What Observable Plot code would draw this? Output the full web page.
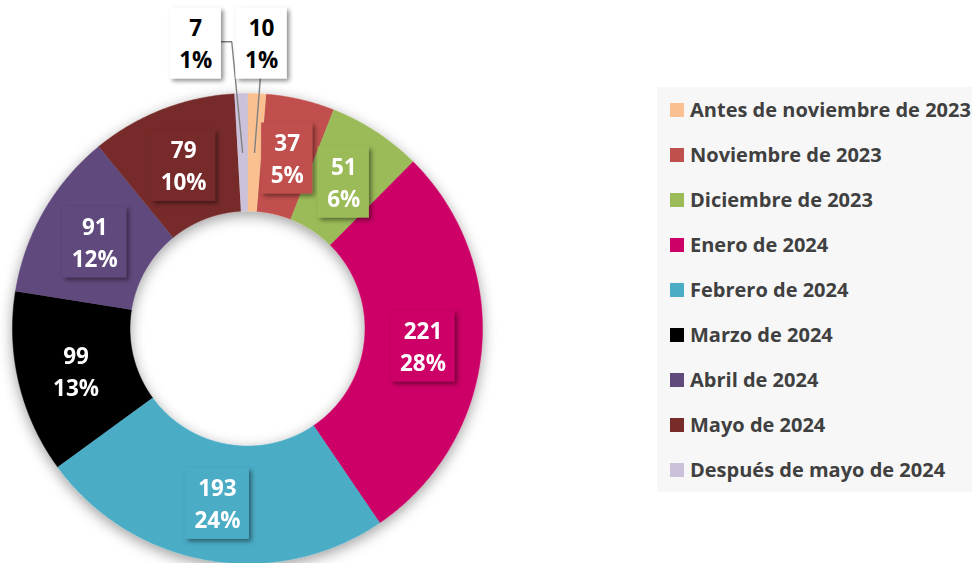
<!DOCTYPE html>
<html><head><meta charset="utf-8">
<script src="https://cdn.jsdelivr.net/npm/d3@7"></script>
<script src="https://cdn.jsdelivr.net/npm/@observablehq/plot@0.6"></script>
<style>
html,body{margin:0;padding:0;background:#fff;overflow:hidden;}
#wrap{position:relative;width:972px;height:563px;overflow:hidden;}
#chart{position:absolute;left:0;top:0;}
#legend{position:absolute;left:657px;top:87px;width:340px;height:405px;background:#f7f7f7;}
#legend .lg-swatches{margin:0;font-family:"Open Sans",sans-serif;font-size:20px;font-weight:700;color:#404040;padding-left:13px;}
#legend .lg-swatch{height:45px;display:flex;align-items:center;padding:0;}
#legend .lg-swatch > svg{margin-right:6px;}
#legend .lg-swatch-label{overflow:visible;text-overflow:clip;}
</style></head>
<body><div id="wrap"><div id="chart"></div><div id="legend"></div></div>
<script>
// ---- data ----
const categories = [
  "Antes de noviembre de 2023",
  "Noviembre de 2023",
  "Diciembre de 2023",
  "Enero de 2024",
  "Febrero de 2024",
  "Marzo de 2024",
  "Abril de 2024",
  "Mayo de 2024",
  "Después de mayo de 2024"
];
const values = [10, 37, 51, 221, 193, 99, 91, 79, 7];
const colors = ["#FAC090", "#C0504D", "#9BBB59", "#CC0066", "#4BACC6", "#000000", "#604A7B", "#772C2A", "#CCC1DA"];

// ---- layout ----
const R = 1, r0 = 0.5, labelR = 0.75;
const outsideLabels = {
  "Antes de noviembre de 2023": {x: 0.06, y: 1.22},
  "Después de mayo de 2024": {x: -0.22, y: 1.22}
};

const pie = d3.pie().sort(null).value(d => d.value).startAngle(0).endAngle(2 * Math.PI);
const total = d3.sum(values);
const arcs = pie(categories.map((c, i) => ({cat: c, value: values[i]})));
const slices = arcs.map(a => ({
  cat: a.data.cat, value: a.data.value, a0: a.startAngle, a1: a.endAngle,
  mid: (a.startAngle + a.endAngle) / 2,
  pct: Math.round(a.data.value / total * 100)
}));

const pts = [];
for (const s of slices) {
  const n = Math.max(2, Math.ceil((s.a1 - s.a0) / (Math.PI / 360)));
  for (let k = 0; k <= n; k++) { const a = s.a0 + (s.a1 - s.a0) * k / n; pts.push({cat: s.cat, x: R * Math.sin(a), y: R * Math.cos(a)}); }
  for (let k = n; k >= 0; k--) { const a = s.a0 + (s.a1 - s.a0) * k / n; pts.push({cat: s.cat, x: r0 * Math.sin(a), y: r0 * Math.cos(a)}); }
}

const inside = slices.filter(s => !outsideLabels[s.cat]).map(s => ({
  cat: s.cat, x: labelR * Math.sin(s.mid), y: labelR * Math.cos(s.mid), text: `${s.value}\n${s.pct}%`
}));
const outside = slices.filter(s => outsideLabels[s.cat]).map(s => ({
  cat: s.cat, x: outsideLabels[s.cat].x, y: outsideLabels[s.cat].y, text: `${s.value}\n${s.pct}%`
}));

// leader lines: from label box edge to slice centroid
const leaders = [];
for (const s of slices.filter(s => outsideLabels[s.cat])) {
  const o = outsideLabels[s.cat];
  const cx = labelR * Math.sin(s.mid), cy = labelR * Math.cos(s.mid);
  if (o.x > 0) {
    leaders.push({cat: s.cat, x: o.x - 0.005, y: o.y - 0.15});
  } else {
    leaders.push({cat: s.cat, x: o.x + 0.098, y: o.y});
    leaders.push({cat: s.cat, x: o.x + 0.153, y: o.y});
  }
  leaders.push({cat: s.cat, x: cx, y: cy});
}

const W = 560, H = 563;
const plot = Plot.plot({
  width: W, height: H,
  marginLeft: 12, marginRight: W - 482, marginTop: 93, marginBottom: 0,
  x: {domain: [-1, 1], axis: null},
  y: {domain: [-1, 1], axis: null},
  color: {domain: categories, range: colors},
  style: {background: "transparent", overflow: "visible", fontFamily: "'Open Sans', sans-serif"},
  marks: [
    Plot.line(pts, {x: "x", y: "y", z: "cat", fill: "cat", stroke: "cat", strokeWidth: 0.5, curve: "linear"}),
    Plot.line(leaders, {x: "x", y: "y", z: "cat", stroke: "#808080", strokeWidth: 1.4}),
    Plot.text(inside, {x: "x", y: "y", text: "text", fill: "white", fontSize: 22.5, fontWeight: "bold", lineHeight: 1.42}),
    Plot.text(outside, {x: "x", y: "y", text: "text", fill: "black", fontSize: 22.5, fontWeight: "bold", lineHeight: 1.42})
  ]
});
document.getElementById("chart").appendChild(plot);

// shadow filters + label boxes
const svg = d3.select(plot);
const defs = svg.insert("defs", ":first-child");
defs.append("filter").attr("id", "ringShadow").attr("x", "-20%").attr("y", "-20%").attr("width", "140%").attr("height", "140%")
  .append("feDropShadow").attr("dx", 0).attr("dy", 4).attr("stdDeviation", 7).attr("flood-color", "#000").attr("flood-opacity", 0.38);
defs.append("filter").attr("id", "boxShadow").attr("x", "-30%").attr("y", "-30%").attr("width", "160%").attr("height", "160%")
  .append("feDropShadow").attr("dx", 2.5).attr("dy", 2.5).attr("stdDeviation", 2).attr("flood-color", "#000").attr("flood-opacity", 0.45);

const lineGroups = plot.querySelectorAll('g[aria-label="line"]');
if (lineGroups[0]) lineGroups[0].setAttribute("filter", "url(#ringShadow)");

const colorOf = new Map(categories.map((c, i) => [c, colors[i]]));
const textGroups = plot.querySelectorAll('g[aria-label="text"]');
[[textGroups[0], inside, false], [textGroups[1], outside, true]].forEach(([g, data, white]) => {
  if (!g) return;
  const boxes = d3.create("svg:g").attr("filter", "url(#boxShadow)");
  g.querySelectorAll("text").forEach((t, i) => {
    const b = t.getBBox();
    const tr = t.getAttribute("transform");
    const padX = 9, padY = 4;
    boxes.append("rect")
      .attr("transform", tr)
      .attr("x", b.x - padX).attr("y", b.y - padY)
      .attr("width", b.width + 2 * padX).attr("height", b.height + 2 * padY)
      .attr("fill", white ? "#fff" : colorOf.get(data[i].cat));
  });
  g.parentNode.insertBefore(boxes.node(), g);
});

// legend
const leg = Plot.legend({
  color: {domain: categories, range: colors},
  columns: 1, swatchSize: 14, className: "lg"
});
document.getElementById("legend").appendChild(leg);
</script>
</body></html>
